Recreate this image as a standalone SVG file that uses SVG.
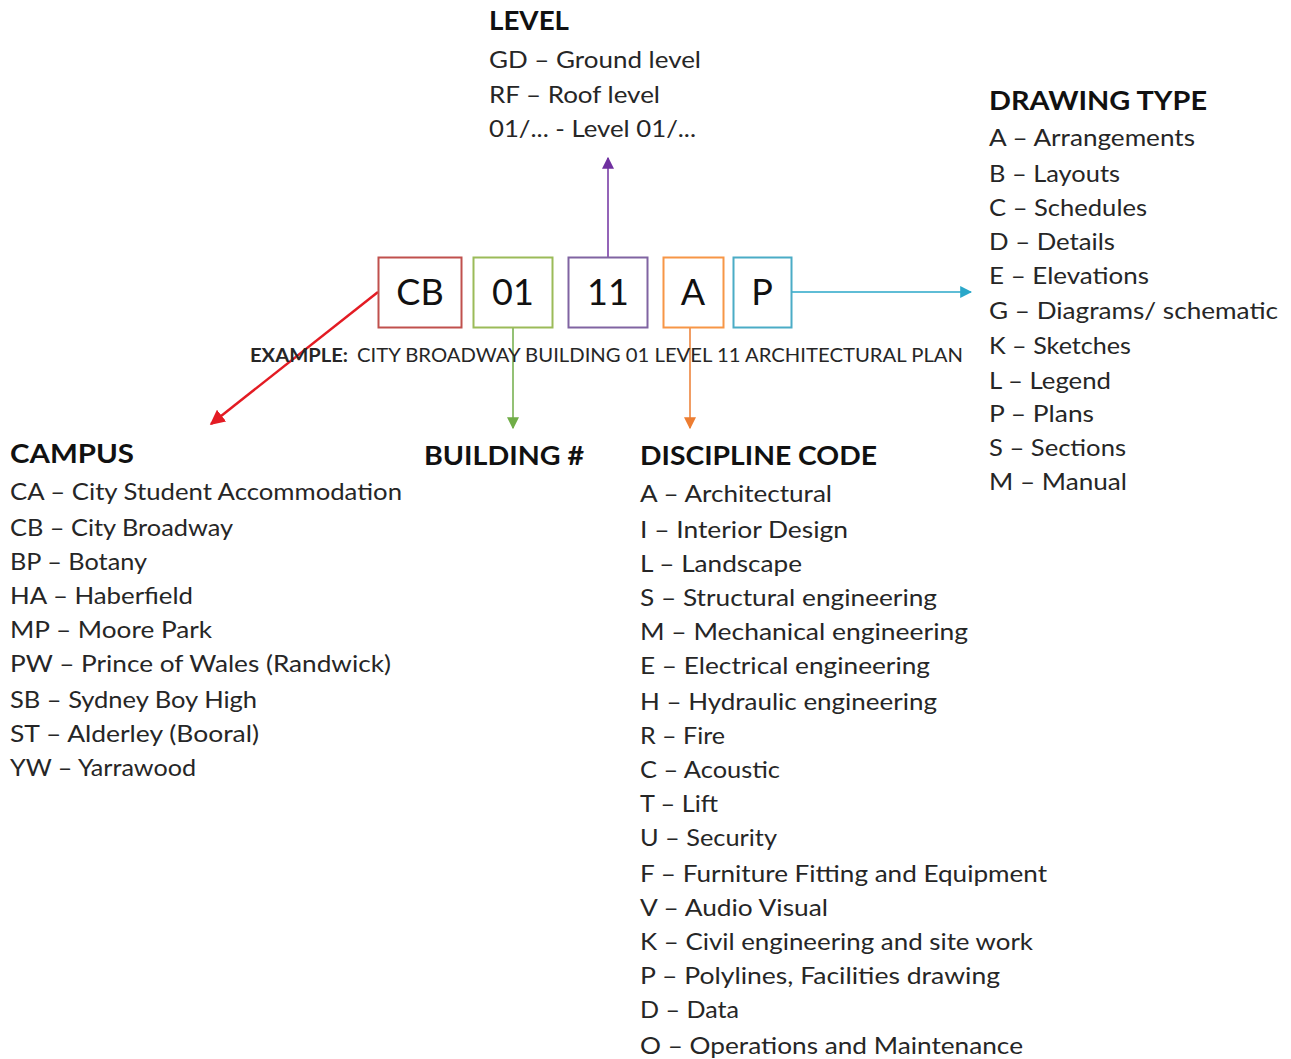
<svg xmlns="http://www.w3.org/2000/svg" width="1291" height="1059" viewBox="0 0 1291 1059">
<style>
text{font-family:Lato,"Noto Sans","Liberation Sans",sans-serif;fill:#262626;}
.h{font-weight:bold;font-size:26px;fill:#111;}
.t{font-size:24px;}
.box{fill:#fff;stroke-width:2;}
.bt{font-size:36px;fill:#111;text-anchor:middle;}
.ex{font-size:19px;}
</style>
<defs>
<marker id="mr" viewBox="0 0 10 10" refX="9" refY="5" markerWidth="6" markerHeight="6" orient="auto" markerUnits="strokeWidth"><path d="M0,0 L10,5 L0,10 z" fill="#e31b23"/></marker>
<marker id="mg" viewBox="0 0 10 10" refX="9" refY="5" markerWidth="8" markerHeight="8" orient="auto" markerUnits="strokeWidth"><path d="M0,0 L10,5 L0,10 z" fill="#70ad47"/></marker>
<marker id="mo" viewBox="0 0 10 10" refX="9" refY="5" markerWidth="8" markerHeight="8" orient="auto" markerUnits="strokeWidth"><path d="M0,0 L10,5 L0,10 z" fill="#ed7d31"/></marker>
<marker id="mp" viewBox="0 0 10 10" refX="9" refY="5" markerWidth="8" markerHeight="8" orient="auto" markerUnits="strokeWidth"><path d="M0,0 L10,5 L0,10 z" fill="#7030a0"/></marker>
<marker id="mc" viewBox="0 0 10 10" refX="9" refY="5" markerWidth="8" markerHeight="8" orient="auto" markerUnits="strokeWidth"><path d="M0,0 L10,5 L0,10 z" fill="#2aa7c9"/></marker>
</defs>
<rect width="1291" height="1059" fill="#fff"/>

<g id="connectors" fill="none">
<line x1="378" y1="292" x2="211" y2="424" stroke="#e31b23" stroke-width="2.5" marker-end="url(#mr)"/>
<line x1="513" y1="327" x2="513" y2="428" stroke="#70ad47" stroke-width="1.5" marker-end="url(#mg)"/>
<line x1="690" y1="327" x2="690" y2="428" stroke="#ed7d31" stroke-width="1.5" marker-end="url(#mo)"/>
<line x1="608" y1="257" x2="608" y2="158" stroke="#7030a0" stroke-width="1.5" marker-end="url(#mp)"/>
<line x1="791" y1="292" x2="971" y2="292" stroke="#2aa7c9" stroke-width="1.5" marker-end="url(#mc)"/>
</g>

<g id="box-cb"><rect class="box" x="378.5" y="257.5" width="83" height="70" stroke="#c0504d"/><text class="bt" x="420" y="305">CB</text></g>
<g id="box-01"><rect class="box" x="473.5" y="257.5" width="79" height="70" stroke="#9bbb59"/><text class="bt" x="513" y="305">01</text></g>
<g id="box-11"><rect class="box" x="568.5" y="257.5" width="79" height="70" stroke="#8064a2"/><text class="bt" x="608" y="305">11</text></g>
<g id="box-a"><rect class="box" x="663.5" y="257.5" width="60" height="70" stroke="#f79646"/><text class="bt" x="693" y="305">A</text></g>
<g id="box-p"><rect class="box" x="733.5" y="257.5" width="58" height="70" stroke="#4bacc6"/><text class="bt" x="762" y="305">P</text></g>

<g id="example">
<text class="ex" x="250" y="362" font-weight="bold" textLength="98" lengthAdjust="spacingAndGlyphs">EXAMPLE:</text>
<text class="ex" x="357" y="362" textLength="606" lengthAdjust="spacingAndGlyphs">CITY BROADWAY  BUILDING 01 LEVEL  11 ARCHITECTURAL  PLAN</text>
</g>

<g id="level">
<text class="h" x="489" y="30" textLength="80" lengthAdjust="spacingAndGlyphs">LEVEL</text>
<text class="t" x="489" y="68" textLength="212" lengthAdjust="spacingAndGlyphs">GD – Ground  level</text>
<text class="t" x="489" y="103" textLength="171" lengthAdjust="spacingAndGlyphs">RF – Roof level</text>
<text class="t" x="489" y="137" textLength="207" lengthAdjust="spacingAndGlyphs">01/... - Level 01/...</text>
</g>

<g id="drawing-type">
<text class="h" x="989" y="110" textLength="218" lengthAdjust="spacingAndGlyphs">DRAWING TYPE</text>
<text class="t" x="989" y="146" textLength="206" lengthAdjust="spacingAndGlyphs">A – Arrangements</text>
<text class="t" x="989" y="182" textLength="131" lengthAdjust="spacingAndGlyphs">B – Layouts</text>
<text class="t" x="989" y="216" textLength="158" lengthAdjust="spacingAndGlyphs">C – Schedules</text>
<text class="t" x="989" y="250" textLength="126" lengthAdjust="spacingAndGlyphs">D – Details</text>
<text class="t" x="989" y="284" textLength="160" lengthAdjust="spacingAndGlyphs">E – Elevations</text>
<text class="t" x="989" y="319" textLength="289" lengthAdjust="spacingAndGlyphs">G – Diagrams/ schematic</text>
<text class="t" x="989" y="354" textLength="142" lengthAdjust="spacingAndGlyphs">K – Sketches</text>
<text class="t" x="989" y="389" textLength="122" lengthAdjust="spacingAndGlyphs">L – Legend</text>
<text class="t" x="989" y="422" textLength="105" lengthAdjust="spacingAndGlyphs">P – Plans</text>
<text class="t" x="989" y="456" textLength="137" lengthAdjust="spacingAndGlyphs">S – Sections</text>
<text class="t" x="989" y="490" textLength="138" lengthAdjust="spacingAndGlyphs">M – Manual</text>
</g>

<g id="campus">
<text class="h" x="10" y="463" textLength="124" lengthAdjust="spacingAndGlyphs">CAMPUS</text>
<text class="t" x="10" y="500" textLength="392" lengthAdjust="spacingAndGlyphs">CA – City Student  Accommodation</text>
<text class="t" x="10" y="536" textLength="223" lengthAdjust="spacingAndGlyphs">CB – City Broadway</text>
<text class="t" x="10" y="570" textLength="137" lengthAdjust="spacingAndGlyphs">BP – Botany</text>
<text class="t" x="10" y="604" textLength="183" lengthAdjust="spacingAndGlyphs">HA – Haberfield</text>
<text class="t" x="10" y="638" textLength="202" lengthAdjust="spacingAndGlyphs">MP – Moore  Park</text>
<text class="t" x="10" y="672" textLength="381" lengthAdjust="spacingAndGlyphs">PW – Prince of Wales (Randwick)</text>
<text class="t" x="10" y="708" textLength="247" lengthAdjust="spacingAndGlyphs">SB – Sydney  Boy High</text>
<text class="t" x="10" y="742" textLength="249" lengthAdjust="spacingAndGlyphs">ST – Alderley  (Booral)</text>
<text class="t" x="10" y="776" textLength="186" lengthAdjust="spacingAndGlyphs">YW – Yarrawood</text>
</g>

<g id="building">
<text class="h" x="424" y="465" textLength="160" lengthAdjust="spacingAndGlyphs">BUILDING #</text>
</g>

<g id="discipline">
<text class="h" x="640" y="465" textLength="237" lengthAdjust="spacingAndGlyphs">DISCIPLINE CODE</text>
<text class="t" x="640" y="502" textLength="192" lengthAdjust="spacingAndGlyphs">A – Architectural</text>
<text class="t" x="640" y="538" textLength="208" lengthAdjust="spacingAndGlyphs">I – Interior  Design</text>
<text class="t" x="640" y="572" textLength="162" lengthAdjust="spacingAndGlyphs">L – Landscape</text>
<text class="t" x="640" y="606" textLength="297" lengthAdjust="spacingAndGlyphs">S – Structural  engineering</text>
<text class="t" x="640" y="640" textLength="328" lengthAdjust="spacingAndGlyphs">M – Mechanical engineering</text>
<text class="t" x="640" y="674" textLength="290" lengthAdjust="spacingAndGlyphs">E – Electrical engineering</text>
<text class="t" x="640" y="710" textLength="297" lengthAdjust="spacingAndGlyphs">H – Hydraulic engineering</text>
<text class="t" x="640" y="744" textLength="85" lengthAdjust="spacingAndGlyphs">R – Fire</text>
<text class="t" x="640" y="778" textLength="140" lengthAdjust="spacingAndGlyphs">C – Acoustic</text>
<text class="t" x="640" y="812" textLength="78" lengthAdjust="spacingAndGlyphs">T – Lift</text>
<text class="t" x="640" y="846" textLength="137" lengthAdjust="spacingAndGlyphs">U – Security</text>
<text class="t" x="640" y="882" textLength="407" lengthAdjust="spacingAndGlyphs">F – Furniture  Fitting and Equipment</text>
<text class="t" x="640" y="916" textLength="188" lengthAdjust="spacingAndGlyphs">V – Audio Visual</text>
<text class="t" x="640" y="950" textLength="393" lengthAdjust="spacingAndGlyphs">K – Civil engineering and site work</text>
<text class="t" x="640" y="984" textLength="360" lengthAdjust="spacingAndGlyphs">P – Polylines, Facilities drawing</text>
<text class="t" x="640" y="1018" textLength="99" lengthAdjust="spacingAndGlyphs">D – Data</text>
<text class="t" x="640" y="1054" textLength="383" lengthAdjust="spacingAndGlyphs">O – Operations and Maintenance</text>
</g>
</svg>
